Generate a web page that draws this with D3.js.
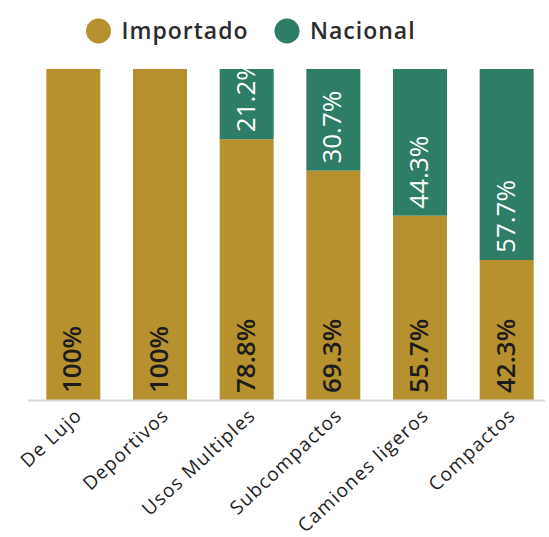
<!DOCTYPE html>
<html>
<head>
<meta charset="utf-8">
<script src="https://cdn.jsdelivr.net/npm/d3@7"></script>
<style>
  html, body { margin: 0; padding: 0; background: #ffffff; }
  svg { display: block; }
</style>
</head>
<body>
<svg id="chart" width="549" height="537"></svg>
<script>
const categories = ["De Lujo", "Deportivos", "Usos Multiples", "Subcompactos", "Camiones ligeros", "Compactos"];
const importado = [100, 100, 78.8, 69.3, 55.7, 42.3];
const nacional = [0, 0, 21.2, 30.7, 44.3, 57.7];
const importadoLabels = ["100%", "100%", "78.8%", "69.3%", "55.7%", "42.3%"];
const nacionalLabels = ["", "", "21.2%", "30.7%", "44.3%", "57.7%"];
const seriesNames = ["Importado", "Nacional"];
const colors = ["#b8912f", "#2e7d67"];

const FONT = "'Open Sans', 'Noto Sans', sans-serif";
const svg = d3.select("#chart");

const rows = categories.map((c, i) => ({ cat: c, Importado: importado[i], Nacional: nacional[i], li: importadoLabels[i], ln: nacionalLabels[i] }));

const x = d3.scaleBand().domain(categories).range([29, 551]).paddingInner(0.377).paddingOuter(0.2);
const y = d3.scaleLinear().domain([0, 100]).range([400, 69]);
const color = d3.scaleOrdinal().domain(seriesNames).range(colors);

const stacked = d3.stack().keys(seriesNames)(rows);

svg.append("g").selectAll("g").data(stacked).join("g")
  .attr("fill", d => color(d.key))
  .selectAll("rect").data(d => d).join("rect")
  .attr("x", d => x(d.data.cat))
  .attr("width", x.bandwidth())
  .attr("y", d => y(d[1]))
  .attr("height", d => Math.max(0, y(d[0]) - y(d[1])));

// axis line
svg.append("line")
  .attr("x1", 28).attr("x2", 545)
  .attr("y1", y(0) + 0.5).attr("y2", y(0) + 0.5)
  .attr("stroke", "#d9d9d9").attr("stroke-width", 2);

// Importado labels (bottom)
svg.append("g").selectAll("text").data(rows).join("text")
  .attr("transform", d => `translate(${x(d.cat) + x.bandwidth() / 2 + 8},${y(0) - 7}) rotate(-90)`)
  .attr("font-family", FONT).attr("font-size", 26).attr("font-weight", 600)
  .attr("fill", "#1c1c1c")
  .text(d => d.li);

// Nacional labels
svg.append("g").selectAll("text").data(rows.filter(d => d.Nacional > 0)).join("text")
  .attr("transform", d => `translate(${x(d.cat) + x.bandwidth() / 2 + 8},${y(d.Importado) - 7}) rotate(-90)`)
  .attr("font-family", FONT).attr("font-size", 26).attr("font-weight", 500)
  .attr("fill", "#ffffff")
  .text(d => d.ln);

// x axis labels
const xAxis = d3.axisBottom(x).tickSize(0).tickPadding(0);
const gx = svg.append("g").attr("transform", `translate(0,${y(0)})`).call(xAxis);
gx.select(".domain").remove();
gx.selectAll(".tick text")
  .attr("font-family", FONT).attr("font-size", 19).attr("font-weight", 500)
  .attr("letter-spacing", 1.2).attr("fill", "#222")
  .attr("text-anchor", "end")
  .attr("dy", null).attr("y", 0)
  .attr("transform", "translate(10,17) rotate(-43)");

// legend
const legend = svg.append("g");
const legendX = [98.5, 287];
seriesNames.forEach((s, i) => {
  legend.append("circle").attr("cx", legendX[i]).attr("cy", 31).attr("r", 12.5).attr("fill", color(s));
  legend.append("text").attr("x", legendX[i] + 23).attr("y", 31).attr("dy", "0.35em")
    .attr("font-family", FONT).attr("font-size", 23).attr("font-weight", 600)
    .attr("letter-spacing", 1).attr("fill", "#2b2b2b").text(s);
});
</script>
</body>
</html>
